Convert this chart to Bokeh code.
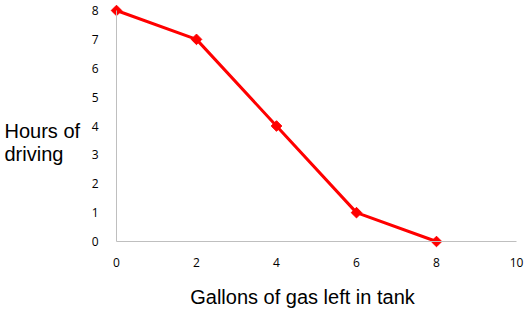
import math
from bokeh.plotting import figure
from bokeh.models import Range1d, Label, FixedTicker
from bokeh.embed import file_html
from bokeh.resources import INLINE

gallons = [0, 2, 4, 6, 8]
hours = [8, 7, 4, 1, 0]
x_ticks = [0, 2, 4, 6, 8, 10]
y_ticks = [0, 1, 2, 3, 4, 5, 6, 7, 8]
x_title = "Gallons of gas left in tank"
y_title = ["Hours of", "driving"]

W, H = 531, 314
# pixel geometry of the plotting area inside the canvas
x0_px, x10_px = 116.0, 516.0
y8_px, y0_px = 10.0, 241.0
px_per_x = (x10_px - x0_px) / 10
px_per_y = (y0_px - y8_px) / 8

x_range = Range1d(-x0_px / px_per_x, (W - x0_px) / px_per_x)
y_range = Range1d(-(H - y0_px) / px_per_y, 8 + y8_px / px_per_y)

p = figure(width=W, height=H, output_backend="svg", toolbar_location=None,
           x_range=x_range, y_range=y_range,
           min_border=0, min_border_left=0, min_border_right=0,
           min_border_top=0, min_border_bottom=0)
p.outline_line_color = None
p.xgrid.visible = False
p.ygrid.visible = False
p.background_fill_color = "white"
p.border_fill_color = "white"

for ax in (p.xaxis[0], p.yaxis[0]):
    ax.fixed_location = 0
    ax.axis_line_color = "#BFBFBF"
    ax.axis_line_width = 1
    ax.major_tick_line_color = None
    ax.minor_tick_line_color = None
    ax.major_label_text_font = "Open Sans"
    ax.major_label_text_font_size = "12px"
    ax.major_label_text_color = "#000000"

p.xaxis[0].bounds = (x_ticks[0], x_ticks[-1])
p.yaxis[0].bounds = (y_ticks[0], y_ticks[-1])
p.xaxis[0].ticker = FixedTicker(ticks=x_ticks)
p.yaxis[0].ticker = FixedTicker(ticks=y_ticks)
p.xaxis[0].major_label_standoff = 10
p.yaxis[0].major_label_standoff = 12

p.line(gallons, hours, line_color="#FF0000", line_width=3)
p.scatter(gallons, hours, marker="square", size=7.5, angle=math.pi / 4,
          fill_color="#FF0000", line_color="#FF0000", line_width=1)

def data_x(px):
    return (px - x0_px) / px_per_x

def data_y(py):
    return (y0_px - py) / px_per_y

label_style = dict(text_baseline="alphabetic", text_font="Liberation Sans",
                   text_font_size="20px", text_color="black")
p.add_layout(Label(x=data_x(302), y=data_y(296.5), text=x_title, text_align="center", **label_style))
p.add_layout(Label(x=data_x(4), y=data_y(130.7), text=y_title[0], text_align="left", **label_style))
p.add_layout(Label(x=data_x(4), y=data_y(153.5), text=y_title[1], text_align="left", **label_style))

open("out.html", "w").write(file_html(p, INLINE))
